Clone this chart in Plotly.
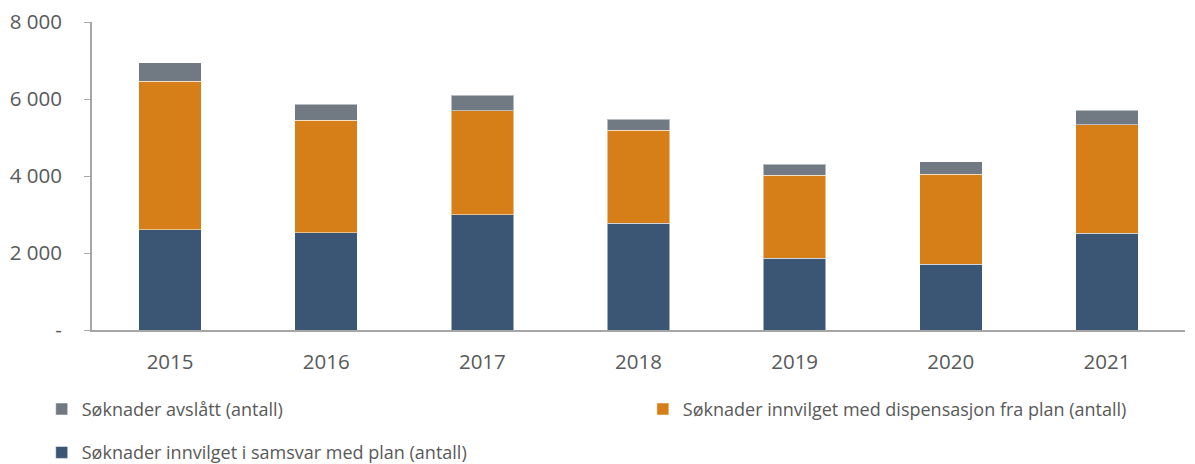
import plotly.graph_objects as go

years = ["2015", "2016", "2017", "2018", "2019", "2020", "2021"]
samsvar = [2600, 2530, 3000, 2770, 1860, 1710, 2510]
dispensasjon = [3860, 2920, 2690, 2420, 2160, 2330, 2820]
avslatt = [480, 410, 410, 280, 280, 330, 380]

y_ticks = [0, 2000, 4000, 6000, 8000]
y_labels = ["-", "2 000", "4 000", "6 000", "8 000"]

family = "Open Sans, Liberation Sans, sans-serif"
tick_font = dict(family=family, size=20.5, color="#595959")
legend_font = dict(family=family, size=18, color="#595959")
edge = dict(width=1, color="rgba(255,255,255,0.5)")

fig = go.Figure()
fig.add_trace(go.Bar(x=years, y=samsvar, name="Søknader innvilget i samsvar med plan (antall)",
                     marker=dict(color="#3A5674", line=edge), legend="legend",
                     legendgroup="b", legendrank=2))
fig.add_trace(go.Bar(x=years, y=dispensasjon, name="Søknader innvilget med dispensasjon fra plan (antall)",
                     marker=dict(color="#D67E17", line=edge), legend="legend2"))
fig.add_trace(go.Bar(x=years, y=avslatt, name="Søknader avslått (antall)",
                     marker=dict(color="#717A82", line=edge), legend="legend",
                     legendgroup="a", legendrank=1))

# page body adds an 8px offset, so margins are shifted to compensate
fig.update_layout(
    barmode="stack",
    bargap=0.6,
    width=1195, height=464,
    margin=dict(l=84, r=18, t=14, b=142, autoexpand=False),
    plot_bgcolor="white", paper_bgcolor="white",
    font=legend_font,
    showlegend=True,
    legend=dict(orientation="v", x=-0.046, y=0.175, xanchor="left", yanchor="top",
                yref="container", traceorder="grouped", tracegroupgap=17,
                font=legend_font, itemwidth=30),
    legend2=dict(orientation="v", x=0.504, y=0.175, xanchor="left", yanchor="top",
                 yref="container", font=legend_font, itemwidth=30),
)
fig.update_xaxes(showline=True, linecolor="#A6A6A6", linewidth=2, ticks="",
                 tickfont=tick_font, showgrid=False, ticklabelstandoff=12,
                 automargin=False)
fig.update_yaxes(range=[0, 8000], tickvals=y_ticks, ticktext=y_labels, showgrid=False,
                 showline=True, linecolor="#A6A6A6", linewidth=2, ticks="outside",
                 ticklen=6, tickcolor="#A6A6A6", tickfont=tick_font, zeroline=False,
                 ticklabelstandoff=18, automargin=False, ticklabeloverflow="allow")

fig.write_html("out.html")
